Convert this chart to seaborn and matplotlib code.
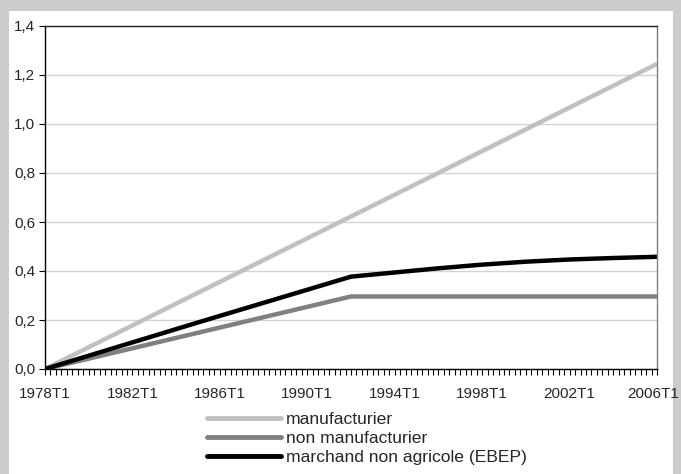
import matplotlib
matplotlib.use("Agg")
import matplotlib.pyplot as plt
from matplotlib.patches import Rectangle
from matplotlib.transforms import ScaledTranslation
from matplotlib.ticker import FixedLocator, MultipleLocator, FuncFormatter
import seaborn as sns
import pandas as pd

# Axis categories: quarters 1978T1 .. 2006T1, labelled every four years
first_year, last_year = 1978, 2006
tick_labels = ["1978T1", "1982T1", "1986T1", "1990T1", "1994T1", "1998T1", "2002T1", "2006T1"]

# Series (values at the listed quarters, straight segments between them)
manuf_quarters = ["1978T1", "2006T1"]
manuf_values = [0.0, 1.245]

non_manuf_quarters = ["1978T1", "1992T1", "2006T1"]
non_manuf_values = [0.0, 0.296, 0.296]

ebep_quarters = ["1978T1", "1985T1", "1992T1", "1994T1", "1996T1", "1998T1",
                 "2000T1", "2002T1", "2004T1", "2006T1"]
ebep_values = [0.0, 0.19, 0.377, 0.394, 0.411, 0.426, 0.438, 0.447, 0.453, 0.458]

series_names = ["manufacturier", "non manufacturier", "marchand non agricole (EBEP)"]
series_colors = ["#c0c0c0", "#808080", "#000000"]


def quarter_index(label):
    year, q = label.split("T")
    return (int(year) - first_year) * 4 + int(q) - 1


frames = []
for name, qs, vals in zip(series_names,
                          [manuf_quarters, non_manuf_quarters, ebep_quarters],
                          [manuf_values, non_manuf_values, ebep_values]):
    frames.append(pd.DataFrame({"t": [quarter_index(q) for q in qs],
                                "valeur": vals, "serie": name}))
df = pd.concat(frames, ignore_index=True)

sns.set_theme(style="white")
plt.rcParams["font.family"] = ["Liberation Sans", "DejaVu Sans"]

fig = plt.figure(figsize=(6.81, 4.74), dpi=100, facecolor="#cccccc")
W, H = 681, 474
# white chart panel on the grey page
fig.patches.append(Rectangle((9 / W, 0), (673 - 9) / W, 1 - 11 / H,
                             transform=fig.transFigure, facecolor="white",
                             edgecolor="none", zorder=-10))

ax = fig.add_axes([45 / W, 1 - 369 / H, (657 - 45) / W, (369 - 26) / H])
ax.set_facecolor("white")

sns.lineplot(data=df, x="t", y="valeur", hue="serie", hue_order=series_names,
             palette=dict(zip(series_names, series_colors)), linewidth=3.2,
             sort=False, ax=ax, legend=False)
for line in ax.lines:
    line.set_solid_capstyle("butt")
    line.set_solid_joinstyle("round")

n_q = (last_year - first_year) * 4
ax.set_xlim(0, n_q)
ax.set_ylim(0, 1.4)

ax.xaxis.set_major_locator(FixedLocator([quarter_index(t) for t in tick_labels]))
ax.set_xticklabels(tick_labels)
ax.xaxis.set_minor_locator(MultipleLocator(1))
ax.yaxis.set_major_locator(MultipleLocator(0.2))
ax.yaxis.set_major_formatter(FuncFormatter(lambda v, p: f"{v:.1f}".replace(".", ",")))

ax.tick_params(axis="x", which="both", direction="out", length=4, width=0.8,
               color="black", labelsize=11, pad=9, bottom=True)
ax.tick_params(axis="y", which="major", direction="out", length=4, width=0.8,
               color="black", labelsize=11, pad=3, left=True)

# keep the last quarter label inside the page
last = ax.get_xticklabels()[-1]
last.set_transform(last.get_transform() + ScaledTranslation(-4 / 100, 0, fig.dpi_scale_trans))

ax.grid(axis="y", color="#d4d4d4", linewidth=1.0)
ax.set_axisbelow(True)
ax.set_xlabel("")
ax.set_ylabel("")

for side, col in [("left", "black"), ("bottom", "black"), ("top", "#222222"), ("right", "#808080")]:
    ax.spines[side].set_visible(True)
    ax.spines[side].set_color(col)
    ax.spines[side].set_linewidth(1.0)

handles = [plt.Line2D([], [], color=c, linewidth=3.5, solid_capstyle="round")
           for c in series_colors]
fig.legend(handles, series_names, loc="upper left",
           bbox_to_anchor=(207 / W, 1 - 412 / H), frameon=False, fontsize=12.6,
           handlelength=4.2, handletextpad=0.3, labelspacing=0.2,
           borderpad=0, borderaxespad=0)

fig.savefig("out.png", dpi=100, facecolor=fig.get_facecolor())
